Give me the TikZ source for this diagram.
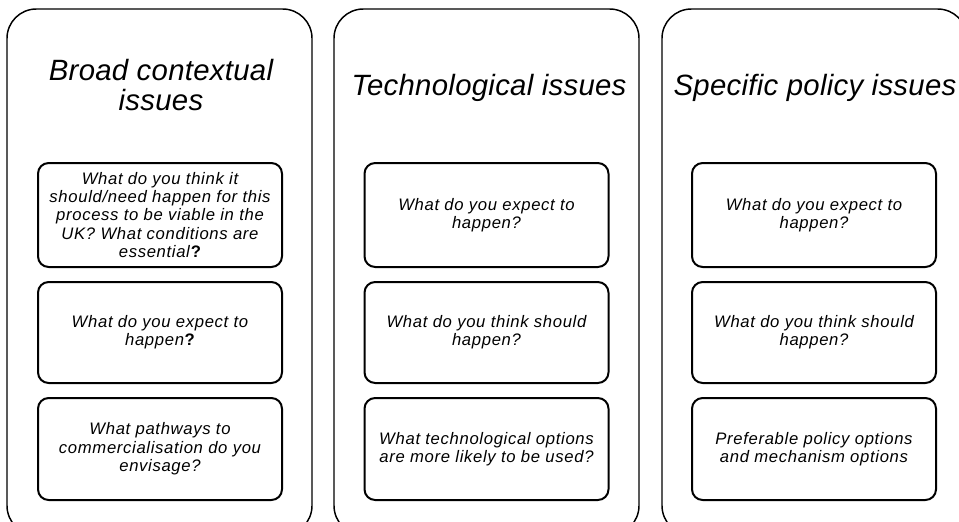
\documentclass[tikz,border=0pt]{standalone}
\usepackage{fontspec}
\setmainfont{Liberation Sans}

\begin{document}
\begin{tikzpicture}[x=0.75pt, y=-0.75pt,
  coluna/.style={draw, line width=1.1pt, rounded corners=22pt,
    minimum width=228.75pt, minimum height=394.5pt},
  titulo/.style={font=\fontsize{22}{22}\selectfont\itshape\addfontfeatures{LetterSpace=1}, align=center},
  caixa/.style={draw, line width=1.5pt, rounded corners=8pt, inner sep=0pt,
    minimum width=183pt, align=center,
    font=\fontsize{12.5}{13.75}\selectfont\itshape\addfontfeatures{LetterSpace=4}}]
  % área visível (as colunas passam da borda)
  \useasboundingbox (0,0) rectangle (959,521);
  \clip (0,0) rectangle (959,521);

  % colunas
  \node[coluna] (col1) at (159.5,272) {};
  \node[coluna] (col2) at (486.5,272) {};
  \node[coluna] (col3) at (814.5,272) {};

  % títulos
  \node[titulo, anchor=base] (tit1) at (161,110) {Broad contextual\\issues};
  \node[titulo, anchor=base] (tit2) at (489,95) {Technological issues};
  \node[titulo, anchor=base] (tit3) at (815,95) {Specific policy issues};

  % perguntas da primeira coluna
  \node[caixa, minimum height=78pt] (c11) at (160,215)
    {What do you think it\\should/need happen for this\\process to be viable in the\\UK? What conditions are\\essential\textup{\bfseries ?}};
  \node[caixa, minimum height=75.75pt] (c12) at (160,332.5)
    {What do you expect to\\happen\textup{\bfseries ?}};
  \node[caixa, minimum height=76.5pt] (c13) at (160,449)
    {What pathways to\\commercialisation do you\\envisage?};

  % segunda coluna
  \node[caixa, minimum height=78pt] (c21) at (486.5,215)
    {What do you expect to\\happen?};
  \node[caixa, minimum height=75.75pt] (c22) at (486.5,332.5)
    {What do you think should\\happen?};
  \node[caixa, minimum height=76.5pt] (c23) at (486.5,449)
    {What technological options\\are more likely to be used?};

  % terceira coluna
  \node[caixa, minimum height=78pt] (c31) at (814,215)
    {What do you expect to\\happen?};
  \node[caixa, minimum height=75.75pt] (c32) at (814,332.5)
    {What do you think should\\happen?};
  \node[caixa, minimum height=76.5pt] (c33) at (814,449)
    {Preferable policy options\\and mechanism options};
\end{tikzpicture}
\end{document}
